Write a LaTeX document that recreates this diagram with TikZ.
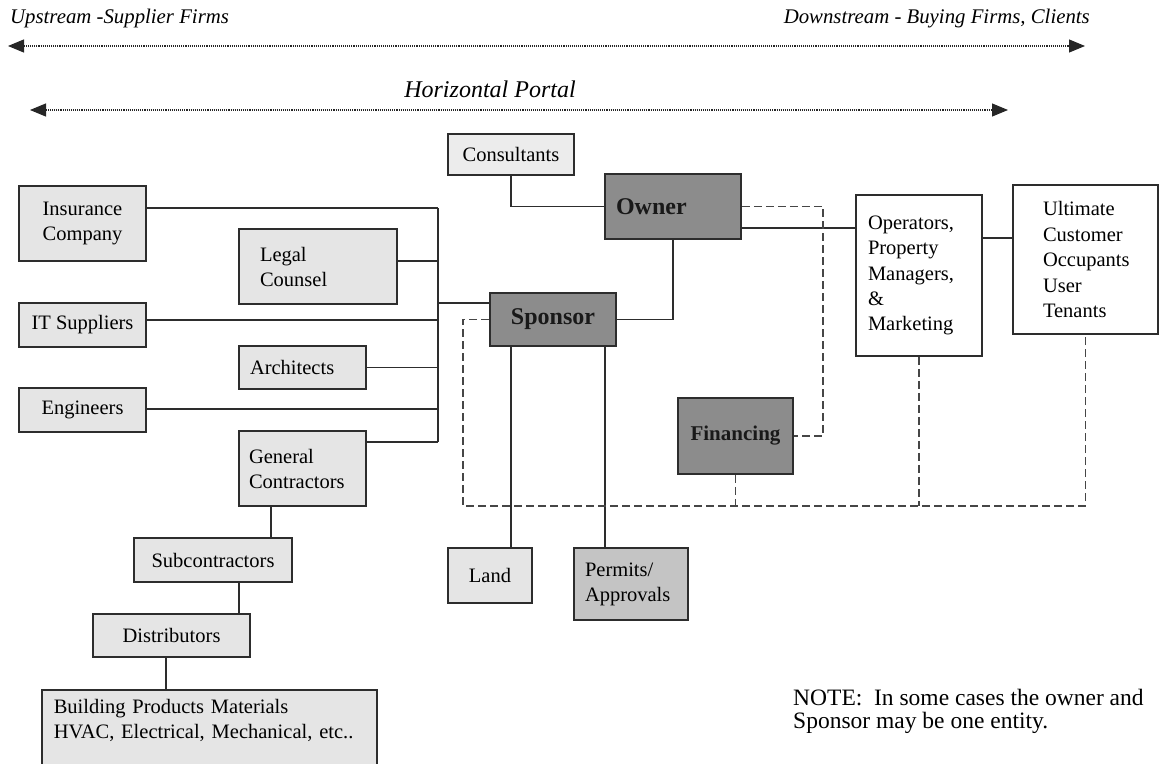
\documentclass[tikz,border=0pt]{standalone}
\usepackage{fontspec}
\setmainfont{Liberation Serif}
\usetikzlibrary{arrows.meta}
\definecolor{lightfill}{RGB}{229,229,229}
\definecolor{lighterfill}{RGB}{236,236,236}
\definecolor{midfill}{RGB}{196,196,196}
\definecolor{darkfill}{RGB}{140,140,140}
\definecolor{linec}{RGB}{45,45,45}
\definecolor{dashc}{RGB}{70,70,70}
\begin{document}
\begin{tikzpicture}[x=1pt,y=-1pt,
  box/.style={draw=linec, line width=1.6pt, inner ysep=0pt, font=\fontsize{20.5}{25}\selectfont, text=black},
  lbox/.style={box, fill=lightfill},
  dbox/.style={box, fill=darkfill, font=\fontsize{24}{28}\selectfont\bfseries, text=black!90},
  link/.style={draw=linec, line width=1.5pt},
  dlink/.style={draw=dashc, line width=1.5pt, dash pattern=on 8pt off 4pt},
  portal/.style={draw=black!85, line width=1.1pt, densely dotted, {Triangle[length=16pt,width=13pt]}-{Triangle[length=16pt,width=13pt]}},
  hdr/.style={font=\fontsize{20.8}{25}\selectfont\itshape, inner sep=0pt, text=black}]
\useasboundingbox (0,0) rectangle (1159,763);

% headers and portal arrows
\node[hdr, anchor=base west] (up) at (10,23) {Upstream -Supplier Firms};
\node[hdr, anchor=base east] (down) at (1090,23) {Downstream - Buying Firms, Clients};
\coordinate (uL) at (8,46);
\coordinate (uR) at (1085,46);
\draw[portal] (uL) -- (uR);
\node[hdr, font=\fontsize{24}{28}\selectfont\itshape, anchor=base] (hp) at (490,97) {Horizontal Portal};
\coordinate (hL) at (30,110);
\coordinate (hR) at (1008,110);
\draw[portal] (hL) -- (hR);

% left column
\node[lbox, minimum width=127, minimum height=75, align=center] (ins) at (82.5,223.5) {Insurance\\Company};
\node[lbox, minimum width=127, minimum height=44] (it) at (82.5,325) {IT Suppliers};
\node[lbox, minimum width=127, minimum height=44] (eng) at (82.5,410) {Engineers};
\node[lbox, text width=116, inner xsep=21, minimum height=75, align=left] (legal) at (318,266.5) {Legal\\Counsel};
\node[lbox, text width=105, inner xsep=11, minimum height=43, align=left] (arch) at (302.5,367.5) {Architects};
\node[lbox, text width=107, inner xsep=10, minimum height=75, align=left] (gc) at (302.5,468.5) {General\\Contractors};
\node[lbox, minimum width=158, minimum height=44] (sub) at (213,560) {Subcontractors};
\node[lbox, minimum width=157, minimum height=43] (dist) at (171.5,635.5) {Distributors};
\node[lbox, anchor=north west, text width=311, inner xsep=12, inner ysep=9, text depth=80, align=left] (bld) at (41,689) {Building Products Materials\\HVAC, Electrical, Mechanical, etc..};

% centre
\node[lbox, fill=lighterfill, minimum width=126, minimum height=41] (cons) at (511,154.5) {Consultants};
\node[dbox, text width=114, inner xsep=11, minimum height=65, align=left] (owner) at (673,206.5) {Owner};
\node[dbox, minimum width=126, minimum height=53] (spon) at (553,319.5) {Sponsor};
\node[dbox, minimum width=115, minimum height=76, font=\fontsize{21}{25}\selectfont\bfseries] (fin) at (735.5,436) {Financing};
\node[lbox, minimum width=84, minimum height=55] (land) at (490,575.5) {Land};
\node[box, fill=midfill, text width=92, inner xsep=11, minimum height=72, align=left] (perm) at (631,584) {Permits/\\Approvals};

% right
\node[box, fill=white, text width=102, inner xsep=12, minimum height=161, align=left, font=\fontsize{20.5}{25.4}\selectfont] (ops) at (919,275.5) {Operators,\\Property\\Managers,\\\&\\Marketing};
\node[box, fill=white, text width=85, inner xsep=30, minimum height=149, align=left, font=\fontsize{20.5}{25.5}\selectfont] (ult) at (1085.5,259.5) {Ultimate\\Customer\\Occupants\\User\\Tenants};

% note
\node[anchor=north west, inner sep=0pt, align=left, font=\fontsize{23.5}{22.5}\selectfont, text=black] (note) at (793,689) {NOTE:\ \ In some cases the owner and\\Sponsor may be one entity.};

% bus on the left
\coordinate (bT) at (438,208);
\coordinate (bB) at (438,442);
\coordinate (bL) at (438,261);
\coordinate (bS) at (438,303);
\coordinate (bI) at (438,320);
\coordinate (bE) at (438,409);
\draw[link] (bT) -- (bB);
\draw[link] (ins.east |- bT) -- (bT);
\draw[link] (legal.east |- bL) -- (bL);
\draw[link] (bS) -- (spon.west |- bS);
\draw[link] (it.east |- bI) -- (bI);
\draw[link] (arch.east) -- (arch.east -| bT);
\draw[link] (eng.east |- bE) -- (bE);
\draw[link] (gc.east |- bB) -- (bB);

% solid links
\draw[link] (cons.south) |- (owner.west);
\draw[link] (owner.south) |- (spon.east);
\coordinate (oo) at (800,228);
\draw[link] (owner.east |- oo) -- (ops.west |- oo);
\coordinate (ou) at (1000,238);
\draw[link] (ops.east |- ou) -- (ult.west |- ou);
\coordinate (xl) at (511,0);
\draw[link] (spon.south -| xl) -- (land.north -| xl);
\coordinate (xp) at (605,0);
\draw[link] (spon.south -| xp) -- (perm.north -| xp);
\coordinate (xg) at (271,0);
\draw[link] (gc.south -| xg) -- (sub.north -| xg);
\coordinate (xs) at (239,0);
\draw[link] (sub.south -| xs) -- (dist.north -| xs);
\coordinate (xd) at (166,0);
\draw[link] (dist.south -| xd) -- (bld.north -| xd);

% dashed links
\coordinate (dR) at (823,300);
\draw[dlink] (owner.east) -| (dR) |- (fin.east);
\coordinate (dBL) at (463,506);
\draw[dlink] (spon.west) -| (dBL) -- (ult.south |- dBL) -- (ult.south);
\draw[dlink] (fin.south) -- (fin.south |- dBL);
\draw[dlink] (ops.south) -- (ops.south |- dBL);
\end{tikzpicture}
\end{document}
